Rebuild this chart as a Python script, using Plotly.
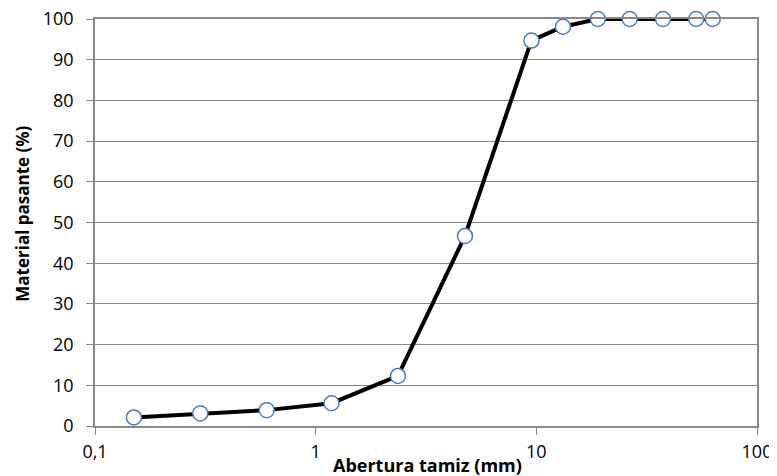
import plotly.graph_objects as go

aberturas = [0.15, 0.3, 0.6, 1.18, 2.36, 4.75, 9.5, 13.2, 19, 26.5, 37.5, 53, 63]
pasante = [2.1, 3.1, 3.9, 5.6, 12.3, 46.7, 94.7, 98.1, 100, 100, 100, 100, 100]
x_ticks = [0.1, 1, 10, 100]
x_ticktext = ["0,1", "1", "10", "100"]
y_ticks = list(range(0, 101, 10))

grid = "#888888"
fig = go.Figure()
fig.add_trace(go.Scatter(
    x=aberturas, y=pasante, mode="lines+markers",
    line=dict(color="black", width=4),
    marker=dict(size=15, color="white", line=dict(color="#4a7ebb", width=1.5)),
    cliponaxis=False, showlegend=False))

# page body has an 8px default margin; margins compensate so the plot area
# lands at x 95..757, y 19..426 in the 777x476 window
fig.update_layout(
    width=777, height=476,
    margin=dict(l=87, r=28, t=11, b=58),
    paper_bgcolor="white", plot_bgcolor="white",
    font=dict(family="Open Sans, Liberation Sans, sans-serif", color="black", size=18),
    xaxis=dict(type="log", range=[-1, 2], tickvals=x_ticks, ticktext=x_ticktext,
               showgrid=False, showline=True, linecolor=grid, linewidth=1.5, mirror=True,
               ticks="outside", ticklen=7, tickcolor=grid, zeroline=False,
               tickfont=dict(size=18), automargin=False, ticklabelstandoff=2,
               ticklabeloverflow="allow"),
    yaxis=dict(range=[0, 100], tickvals=y_ticks, showgrid=True, gridcolor=grid, gridwidth=1,
               showline=True, linecolor=grid, linewidth=1.5, mirror=True,
               ticks="outside", ticklen=7, tickcolor=grid, zeroline=False,
               tickfont=dict(size=18), automargin=False, ticklabelstandoff=9,
               ticklabeloverflow="allow"),
    annotations=[
        dict(text="<b>Abertura tamiz (mm)</b>", xref="paper", yref="paper",
             x=0.502, y=-0.0958, xanchor="center", yanchor="middle",
             showarrow=False, font=dict(size=18)),
        dict(text="<b>Material pasante (%)</b>", xref="paper", yref="paper",
             x=-0.110, y=0.522, xanchor="center", yanchor="middle",
             textangle=-90, showarrow=False, font=dict(size=17)),
    ],
)
fig.write_html("out.html")
